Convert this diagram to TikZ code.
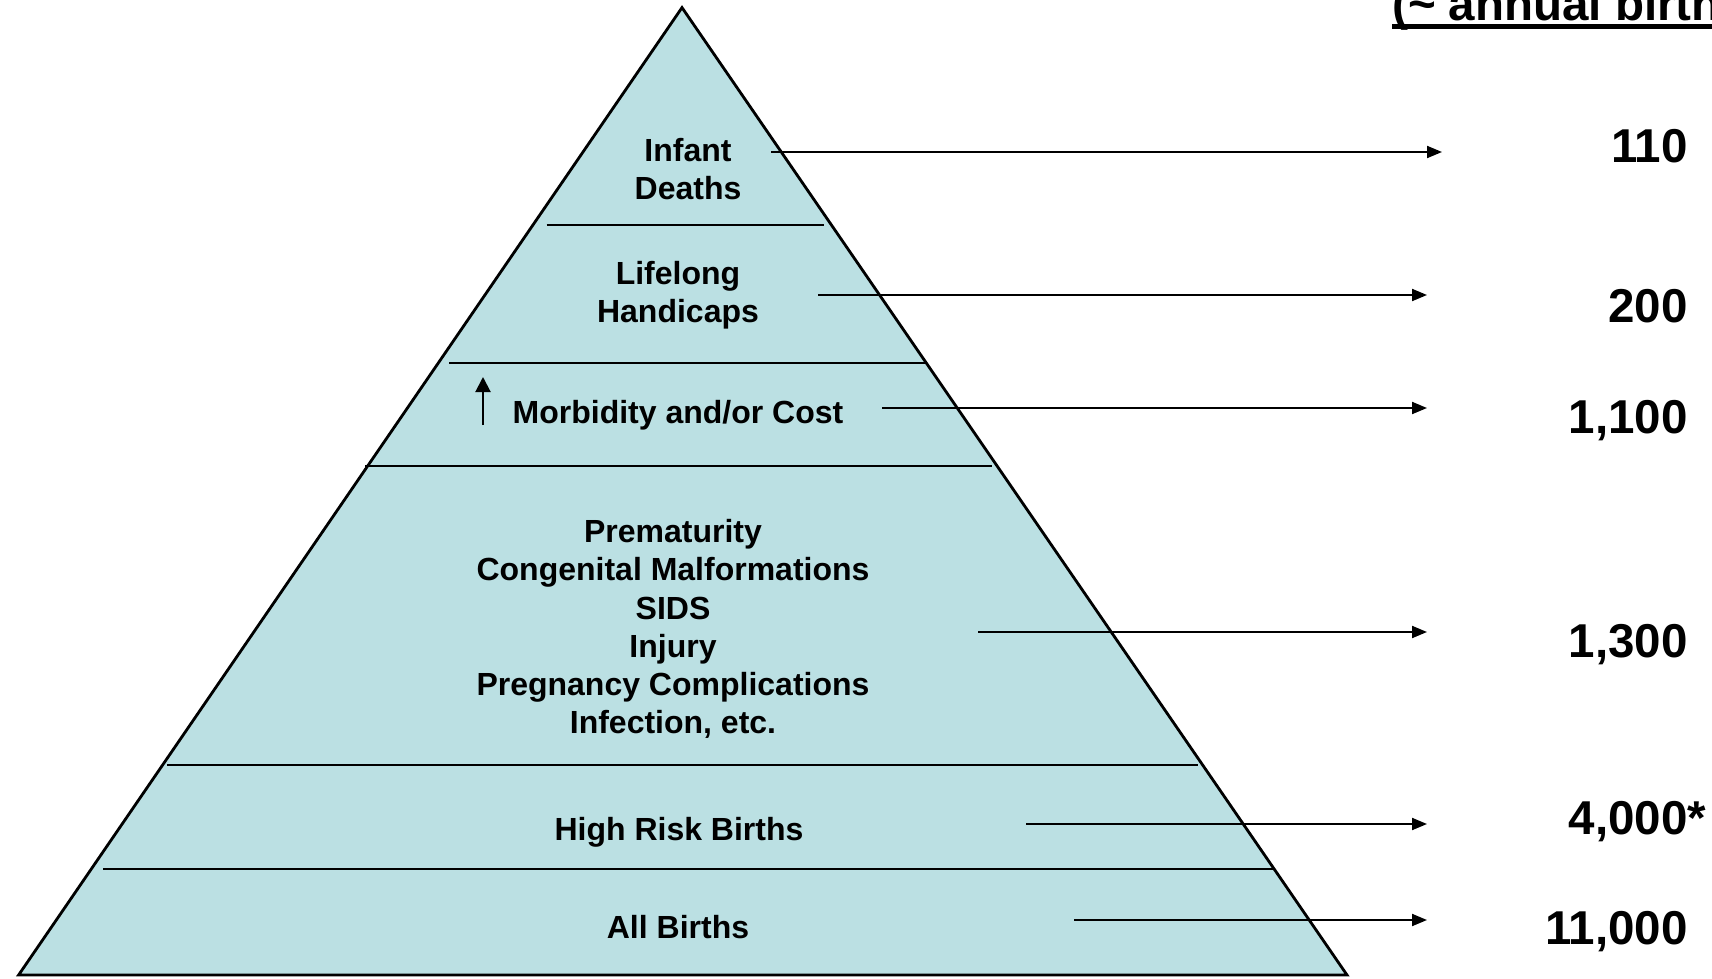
\documentclass[tikz,border=0pt]{standalone}
\usepackage{fontspec}
\setmainfont{Liberation Sans}
\usetikzlibrary{arrows.meta}
\definecolor{pyrfill}{RGB}{187,224,227}
\tikzset{
  lbl/.style={font=\fontsize{32}{38.2}\selectfont\bfseries, align=center, inner sep=0pt, text=black},
  num/.style={font=\fontsize{47.5}{54}\selectfont\bfseries, inner sep=0pt, anchor=base east, text=black},
  sep/.style={line width=2pt},
  link/.style={line width=2pt, -{Triangle[length=15pt, width=12pt]}},
}
\begin{document}
\begin{tikzpicture}[x=1pt, y=-1pt]
\useasboundingbox (0,0) rectangle (1712,979);
% pyramid
\draw[fill=pyrfill, line width=2.8pt, line join=miter] (682,7.6) -- (1347,975) -- (18.6,975) -- cycle;
% separators
\draw[sep] (546.5,225) -- (824,225);
\draw[sep] (449,362.5) -- (925,362.5);
\draw[sep] (365,466) -- (992,466);
\draw[sep] (167,765) -- (1198,765);
\draw[sep] (103,868.5) -- (1274,868.5);
% labels
\node[lbl] (infant) at (688,169) {Infant\\Deaths};
\node[lbl] (life) at (678,295) {Lifelong\\Handicaps};
\node[lbl, anchor=base] (morb) at (678,423.5) {Morbidity and/or Cost};
\node[lbl] (prem) at (673,629) {Prematurity\\Congenital Malformations\\SIDS\\Injury\\Pregnancy Complications\\Infection, etc.};
\node[lbl, anchor=base] (high) at (679,840) {High Risk Births};
\node[lbl, anchor=base] (all) at (678,938) {All Births};
% small up arrow
\coordinate (ub) at (483,425);
\coordinate (ut) at (483,377);
\draw[line width=2pt, -{Triangle[length=15pt, width=15pt]}] (ub) -- (ut);
% numbers
\node[num] (n1) at (1688,162) {110};
\node[num] (n2) at (1688,322) {200};
\node[num] (n3) at (1688,433) {1,100};
\node[num] (n4) at (1688,657) {1,300};
\node[num] (n5) at (1688,834) {4,000\rlap{*}};
\node[num] (n6) at (1688,944) {11,000};
% arrows
\coordinate (a1) at (771,152);  \coordinate (b1) at (1442,152);
\coordinate (a2) at (818,295);  \coordinate (b2) at (1427,295);
\coordinate (a3) at (882,408);  \coordinate (b3) at (1427,408);
\coordinate (a4) at (978,632);  \coordinate (b4) at (1427,632);
\coordinate (a5) at (1026,824); \coordinate (b5) at (1427,824);
\coordinate (a6) at (1074,920); \coordinate (b6) at (1427,920);
\draw[link] (a1) -- (b1);
\draw[link] (a2) -- (b2);
\draw[link] (a3) -- (b3);
\draw[link] (a4) -- (b4);
\draw[link] (a5) -- (b5);
\draw[link] (a6) -- (b6);
% header (cut off by the page edge)
\begin{scope}
\clip (0,0) rectangle (1712,979);
\node[num, anchor=base west] (hdr) at (1392,21) {(\char`~{} annual births)};
\draw[line width=4.5pt] ([yshift=-5.5pt]hdr.base west) -- ([yshift=-5.5pt]hdr.base east);
\end{scope}
\end{tikzpicture}
\end{document}
